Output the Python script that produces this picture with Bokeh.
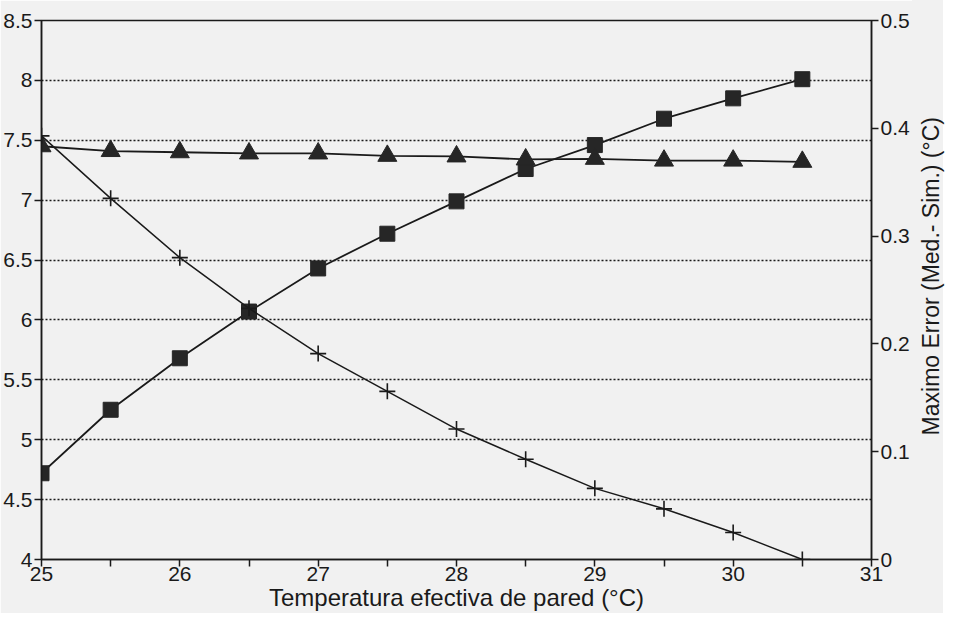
from bokeh.plotting import figure
from bokeh.layouts import row
from bokeh.models import Range1d, LinearAxis, FixedTicker, NumeralTickFormatter, Div
from bokeh.embed import file_html
from bokeh.resources import INLINE

# ---- data ----
temp = [25, 25.5, 26, 26.5, 27, 27.5, 28, 28.5, 29, 29.5, 30, 30.5]
squares = [4.72, 5.25, 5.68, 6.07, 6.43, 6.72, 6.99, 7.26, 7.46, 7.68, 7.85, 8.01]
triangles = [7.45, 7.41, 7.40, 7.39, 7.39, 7.37, 7.365, 7.34, 7.345, 7.33, 7.33, 7.32]
max_error = [0.393, 0.335, 0.280, 0.233, 0.191, 0.156, 0.121, 0.093, 0.066, 0.047, 0.025, 0.0]

x_ticks = [25, 26, 27, 28, 29, 30, 31]
x_minor_ticks = [25.5, 26.5, 27.5, 28.5, 29.5, 30.5]
left_ticks = [4, 4.5, 5, 5.5, 6, 6.5, 7, 7.5, 8, 8.5]
grid_ticks = [4.5, 5, 5.5, 6, 6.5, 7, 7.5, 8]
right_ticks = [0, 0.1, 0.2, 0.3, 0.4, 0.5]
x_label = "Temperatura efectiva de pared (°C)"
right_label = "Maximo Error (Med.- Sim.) (°C)"

FONT = "Liberation Sans"
BG = "#f1f1f1"
INK = "#1a1a1a"
PW, DW, H = 912, 31, 613

p = figure(width=PW, height=H,
           x_range=Range1d(25, 31), y_range=Range1d(4, 8.5),
           output_backend="svg", toolbar_location=None,
           min_border_left=40, min_border_right=41,
           min_border_top=20, min_border_bottom=50,
           background_fill_color=BG, border_fill_color=BG)
p.extra_y_ranges = {"err": Range1d(0, 0.5)}

p.outline_line_color = INK
p.outline_line_width = 1.5

# x axis
xa = p.xaxis[0]
xa.ticker = FixedTicker(ticks=x_ticks, minor_ticks=x_minor_ticks)
xa.axis_label = x_label

# left axis
ya = p.yaxis[0]
ya.ticker = FixedTicker(ticks=left_ticks)
ya.formatter = NumeralTickFormatter(format="0.[0]")

# right axis
ra = LinearAxis(y_range_name="err", ticker=FixedTicker(ticks=right_ticks),
                formatter=NumeralTickFormatter(format="0.[0]"))
p.add_layout(ra, "right")

for ax in (xa, ya, ra):
    ax.axis_line_color = INK
    ax.axis_line_width = 1.5
    ax.major_tick_line_color = INK
    ax.major_tick_line_width = 1.5
    ax.major_tick_in = 0
    ax.major_tick_out = 7
    ax.major_label_text_font = FONT
    ax.major_label_text_font_size = "21px"
    ax.major_label_text_color = INK
    ax.major_label_standoff = 2
    ax.axis_label_text_font = FONT
    ax.axis_label_text_font_style = "normal"
    ax.axis_label_text_color = INK

xa.axis_label_text_font_size = "24px"
xa.axis_label_standoff = 0
xa.major_label_standoff = 0

xa.minor_tick_line_color = INK
xa.minor_tick_line_width = 1.5
xa.minor_tick_in = 0
xa.minor_tick_out = 7
ya.minor_tick_line_color = None
ra.minor_tick_line_color = None

# grid
p.xgrid.grid_line_color = None
p.ygrid.ticker = FixedTicker(ticks=grid_ticks)
p.ygrid.grid_line_color = INK
p.ygrid.grid_line_width = 1.5
p.ygrid.grid_line_dash = "2 2"

# series
p.line(temp, squares, line_color=INK, line_width=1.8)
p.scatter(temp, squares, marker="square", size=15, fill_color="#262626", line_color="#262626")

p.line(temp, triangles, line_color=INK, line_width=1.8)
p.scatter(temp, triangles, marker="triangle", size=19, fill_color="#262626", line_color="#262626")

p.line(temp, max_error, y_range_name="err", line_color=INK, line_width=1.5)
p.scatter(temp, max_error, y_range_name="err", marker="cross", size=16,
          line_color=INK, line_width=1.6)

# right-side axis title, reading bottom to top
label_html = (
    f'<div style="width:{DW}px;height:{H}px;display:flex;align-items:center;'
    f'justify-content:center;padding-left:8px;padding-bottom:60px;box-sizing:border-box;">'
    f'<span style="writing-mode:vertical-rl;transform:rotate(180deg);white-space:nowrap;'
    f"font-family:'Liberation Sans';font-size:23px;color:{INK};\">{right_label}</span></div>"
)
div = Div(text=label_html, width=DW, height=H, margin=0,
          styles={"background-color": BG, "overflow": "visible"})

layout = row(p, div, spacing=0)
open("out.html", "w").write(file_html(layout, INLINE))
